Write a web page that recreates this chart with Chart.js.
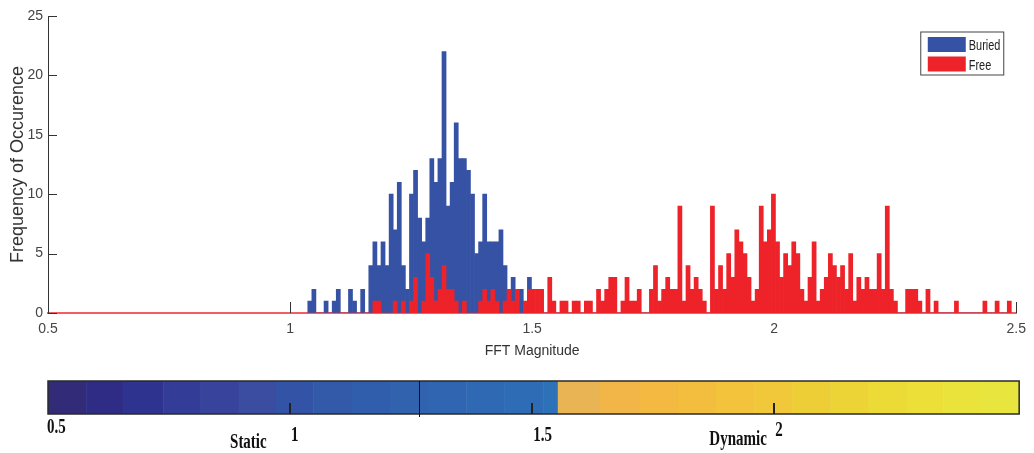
<!DOCTYPE html>
<html>
<head>
<meta charset="utf-8">
<title>FFT Magnitude histogram</title>
<script src="https://cdn.jsdelivr.net/npm/chart.js@4.4.0/dist/chart.umd.min.js"></script>
<style>
  body { margin: 0; background: #fff; }
  #wrap { width: 1034px; height: 453px; }
</style>
</head>
<body>
<div id="wrap"><canvas id="fft-hist"></canvas></div>
<script>
// histogram bins, shared by both series (bin i covers binStart + i*binWidth)
let binStart = 1.0366
let binWidth = 0.0084

let seriesNames = ['Buried', 'Free']

// counts per bin, 173 bins
let buriedCounts = [
    1, 2, 0, 0, 1, 0, 1, 2, 0, 0,
    2, 1, 0, 2, 0, 4, 6, 4, 6, 4,
    10, 7, 11, 4, 2, 10, 12, 8, 6, 8,
    13, 11, 13, 22, 9, 11, 16, 13, 13, 12,
    10, 5, 6, 10, 6, 6, 6, 7, 4, 2,
    3, 2, 2, 0, 3, 0, 0, 0, 0, 0,
    0, 0, 0, 0, 0, 0, 0, 0, 0, 0,
    0, 0, 0, 0, 0, 0, 0, 0, 0, 0,
    0, 0, 0, 0, 0, 0, 0, 0, 0, 0,
    0, 0, 0, 0, 0, 0, 0, 0, 0, 0,
    0, 0, 0, 0, 0, 0, 0, 0, 0, 0,
    0, 0, 0, 0, 0, 0, 0, 0, 0, 0,
    0, 0, 0, 0, 0, 0, 0, 0, 0, 0,
    0, 0, 0, 0, 0, 0, 0, 0, 0, 0,
    0, 0, 0, 0, 0, 0, 0, 0, 0, 0,
    0, 0, 0, 0, 0, 0, 0, 0, 0, 0,
    0, 0, 0, 0, 0, 0, 0, 0, 0, 0,
    0, 0, 0
]
let freeCounts = [
    0, 0, 0, 0, 0, 0, 0, 0, 0, 0,
    0, 0, 0, 0, 0, 0, 1, 1, 0, 0,
    0, 1, 0, 1, 0, 1, 3, 0, 1, 5,
    3, 1, 2, 4, 2, 2, 1, 0, 1, 0,
    0, 0, 1, 2, 1, 2, 1, 0, 1, 2,
    1, 2, 0, 1, 2, 2, 2, 2, 0, 3,
    1, 0, 1, 1, 0, 1, 1, 0, 1, 1,
    0, 2, 1, 2, 3, 3, 0, 1, 3, 1,
    1, 2, 0, 0, 2, 4, 1, 2, 3, 2,
    2, 9, 1, 4, 2, 3, 2, 1, 0, 9,
    2, 4, 2, 5, 3, 7, 6, 5, 3, 1,
    2, 9, 6, 7, 10, 6, 3, 5, 4, 6,
    5, 2, 1, 3, 6, 1, 2, 3, 5, 4,
    3, 4, 2, 5, 1, 3, 2, 3, 2, 2,
    5, 2, 9, 2, 1, 0, 0, 2, 2, 2,
    1, 0, 2, 0, 1, 0, 0, 0, 0, 1,
    0, 0, 0, 0, 0, 0, 1, 0, 0, 1,
    0, 0, 1
]

let xTicks = [0.5, 1, 1.5, 2, 2.5]
let yTicks = [0, 5, 10, 15, 20, 25]

// colour bar underneath: segment edges and colours
let colorbarEdges = [
    0.5, 0.579, 0.655, 0.738, 0.814, 0.894, 0.970, 1.048, 1.127, 1.206,
    1.284, 1.364, 1.442, 1.523, 1.553, 1.640, 1.722, 1.801, 1.879, 1.959,
    2.037, 2.116, 2.195, 2.274, 2.349, 2.428, 2.506
]
let colorbarColors = [
    '#312b78', '#2e2c85', '#2f3390', '#333c97', '#38449c', '#3a4da0', '#3354a6',
    '#325aa9', '#315eac', '#3162ae', '#3066b1', '#2f69b3', '#2e6db6', '#2d71b9',
    '#e9b453', '#f1b548', '#f3b941', '#f3be3d', '#f2c33b', '#f0c839', '#eece37',
    '#edd436', '#ecda36', '#ebdf38', '#eae33c', '#e8e63e'
]
let colorbarDivider = 1.267
let colorbarTicks = [0.5, 1, 1.5, 2]
let colorbarTickLabels = ['0.5', '1', '1.5', '2']
let colorbarCaptions = ['Static', 'Dynamic']
let colorbarCaptionAt = [0.876, 1.866]

let blue = '#3652a4'
let red = '#ee2229'
let sansFont = '"Liberation Sans", Arial, sans-serif'

function toPoints(counts) {
    return counts.map(function (c, i) {
        return { x: binStart + (i + 0.5) * binWidth, y: c }
    })
}

// text drawn with an x/y stretch (figure text is narrow and tall)
function stretchedText(ctx, text, x, y, sx, sy) {
    ctx.save()
    ctx.translate(x, y)
    ctx.scale(sx, sy)
    ctx.fillText(text, 0, 0)
    ctx.restore()
}

// inward tick marks on both axes, drawn under the bars
let axisTicks = {
    id: 'axisTicks',
    beforeDatasetsDraw(chart) {
        let ctx = chart.ctx
        let x = chart.scales.x
        let y = chart.scales.y
        let area = chart.chartArea
        ctx.save()
        ctx.strokeStyle = '#333'
        ctx.lineWidth = 1
        ctx.beginPath()
        xTicks.forEach(function (t) {
            let px = Math.round(x.getPixelForValue(t)) + 0.5
            ctx.moveTo(px, area.bottom)
            ctx.lineTo(px, area.bottom - 11)
        })
        yTicks.forEach(function (t) {
            let py = Math.round(y.getPixelForValue(t)) + 0.5
            ctx.moveTo(area.left, py)
            ctx.lineTo(area.left + 9, py)
        })
        ctx.stroke()
        ctx.restore()
    }
}

// boxed legend in the top right corner
let boxLegend = {
    id: 'boxLegend',
    afterDraw(chart) {
        let ctx = chart.ctx
        let area = chart.chartArea
        let left = area.right - 95.5
        let top = area.top + 16
        ctx.save()
        ctx.fillStyle = '#fff'
        ctx.fillRect(left, top, 83, 43)
        ctx.strokeStyle = '#444'
        ctx.lineWidth = 1
        ctx.strokeRect(left, top, 83, 43)
        ctx.font = '14px ' + sansFont
        ctx.textBaseline = 'alphabetic'
        chart.data.datasets.forEach(function (ds, i) {
            let rowTop = top + 5 + i * 19.5
            ctx.fillStyle = ds.backgroundColor
            ctx.fillRect(left + 7, rowTop, 38, 15)
            ctx.fillStyle = '#222'
            stretchedText(ctx, ds.label, left + 48, rowTop + 13, 0.78, 1)
        })
        ctx.restore()
    }
}

// discrete colour bar placed on the same magnitude axis
let colorBar = {
    id: 'colorBar',
    afterDraw(chart) {
        let ctx = chart.ctx
        let x = chart.scales.x
        let top = chart.chartArea.bottom + 68
        let h = 33
        ctx.save()
        for (let i = 0; i < colorbarColors.length; i++) {
            let x0 = x.getPixelForValue(colorbarEdges[i])
            let x1 = x.getPixelForValue(colorbarEdges[i + 1])
            ctx.fillStyle = colorbarColors[i]
            ctx.fillRect(x0, top, x1 - x0 + 0.5, h)
        }
        let xl = x.getPixelForValue(colorbarEdges[0])
        let xr = x.getPixelForValue(colorbarEdges[colorbarEdges.length - 1])
        ctx.strokeStyle = '#2a2a2a'
        ctx.lineWidth = 1.5
        ctx.strokeRect(xl, top, xr - xl, h)

        ctx.lineWidth = 1
        ctx.strokeStyle = '#111'
        let xd = Math.round(x.getPixelForValue(colorbarDivider)) + 0.5
        ctx.beginPath()
        ctx.moveTo(xd, top)
        ctx.lineTo(xd, top + h + 3)
        ctx.stroke()

        ctx.lineWidth = 2
        ctx.strokeStyle = '#222'
        ctx.beginPath()
        colorbarTicks.forEach(function (t) {
            if (t === colorbarEdges[0]) return
            let px = Math.round(x.getPixelForValue(t))
            ctx.moveTo(px, top + h)
            ctx.lineTo(px, top + h - 11)
        })
        ctx.stroke()

        ctx.fillStyle = '#111'
        ctx.font = 'bold 15px "Liberation Serif", "Times New Roman", serif'
        ctx.textBaseline = 'alphabetic'
        ctx.textAlign = 'left'
        let labelDrop = [19, 27, 27, 22]
        colorbarTickLabels.forEach(function (lbl, i) {
            let px = x.getPixelForValue(colorbarTicks[i]) + (i === 0 ? -1 : 1)
            stretchedText(ctx, lbl, px, top + h + labelDrop[i], 1, 1.35)
        })
        let captionDrop = [34, 31]
        colorbarCaptions.forEach(function (c, i) {
            stretchedText(ctx, c, x.getPixelForValue(colorbarCaptionAt[i]), top + h + captionDrop[i], 1, 1.35)
        })
        ctx.restore()
    }
}

let canvas = document.querySelector('#fft-hist')
let context = canvas.getContext('2d')

let chart = new Chart(context, {
    type: 'bar',
    data: {
        datasets: [{
            label: seriesNames[0],
            data: toPoints(buriedCounts),
            backgroundColor: blue,
            order: 1
        }, {
            label: seriesNames[1],
            data: toPoints(freeCounts),
            backgroundColor: red,
            order: 0
        }]
    },
    options: {
        responsive: true,
        maintainAspectRatio: false,
        animation: false,
        devicePixelRatio: 1,
        grouped: false,
        barPercentage: 1,
        categoryPercentage: 1,
        borderWidth: 0,
        layout: {
            padding: { top: 16, right: 12, bottom: 93, left: 0 }
        },
        plugins: {
            legend: { display: false },
            tooltip: { enabled: false }
        },
        scales: {
            x: {
                type: 'linear',
                min: 0.5,
                max: 2.5,
                offset: false,
                z: 1,
                afterFit(scale) { scale.height = 47 },
                grid: { display: false, offset: false, drawTicks: false },
                border: { display: true, color: 'rgba(238,40,45,0.75)', width: 2 },
                ticks: {
                    stepSize: 0.5,
                    padding: 8,
                    color: '#444',
                    font: { family: sansFont, size: 14 },
                    callback: function (value) { return String(value) }
                },
                title: {
                    display: true,
                    text: 'FFT Magnitude',
                    color: '#333',
                    padding: { top: 0, bottom: 0 },
                    font: { family: sansFont, size: 14 }
                }
            },
            y: {
                min: 0,
                max: 25,
                afterFit(scale) { scale.width = 48 },
                grid: { display: false, drawTicks: false },
                border: { display: true, color: '#333', width: 1 },
                ticks: {
                    stepSize: 5,
                    padding: 5,
                    color: '#444',
                    font: { family: sansFont, size: 14 }
                },
                title: {
                    display: true,
                    text: 'Frequency of Occurence',
                    color: '#333',
                    padding: { top: 7, bottom: 0 },
                    font: { family: sansFont, size: 18 }
                }
            }
        }
    },
    plugins: [axisTicks, boxLegend, colorBar]
})
</script>
</body>
</html>
